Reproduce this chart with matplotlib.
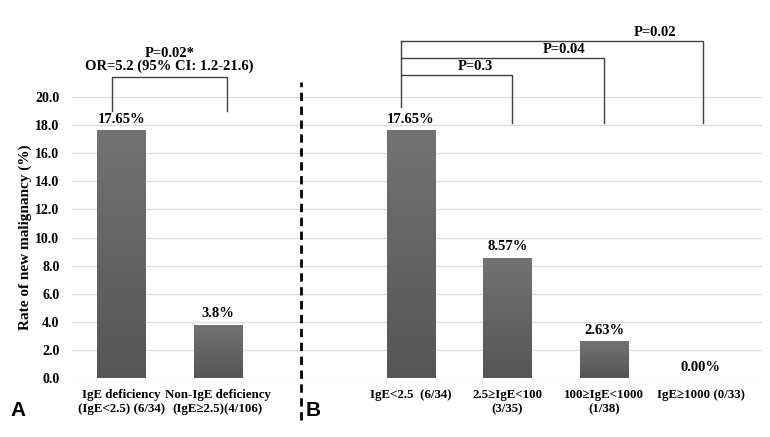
import matplotlib
matplotlib.use("Agg")
import matplotlib.pyplot as plt
import numpy as np
from matplotlib.colors import LinearSegmentedColormap

categories = ["IgE deficiency\n(IgE<2.5) (6/34)", "Non-IgE deficiency\n(IgE≥2.5)(4/106)",
              "IgE<2.5  (6/34)", "2.5≥IgE<100\n(3/35)", "100≥IgE<1000\n(1/38)", "IgE≥1000 (0/33)"]
values = [17.65, 3.8, 17.65, 8.57, 2.63, 0.0]
value_labels = ["17.65%", "3.8%", "17.65%", "8.57%", "2.63%", "0.00%"]
positions = [0, 1, 3, 4, 5, 6]
yticks = [0, 2, 4, 6, 8, 10, 12, 14, 16, 18, 20]
p_labels_right = ["P=0.3", "P=0.04", "P=0.02"]

plt.rcParams['font.family'] = ['Liberation Serif', 'DejaVu Serif']
plt.rcParams['font.weight'] = 'bold'

fig = plt.figure(figsize=(7.7, 4.37), dpi=100)
ax = fig.add_axes([0.0935, 0.135, 0.8965, 0.643])

ax.set_yticks(yticks)
ax.set_yticklabels([f"{v:.1f}" for v in yticks], fontsize=10, fontweight='bold')
ax.yaxis.grid(True, color='#dcdcdc', linewidth=0.9)
ax.set_axisbelow(True)
for s in ax.spines.values():
    s.set_visible(False)
ax.tick_params(axis='y', length=0, pad=9)
ax.set_xticks(positions)
ax.set_xticklabels(categories, fontsize=9.3, fontweight='bold', linespacing=1.25, va='top')
ax.tick_params(axis='x', length=0, pad=8)
ax.set_ylabel("Rate of new malignancy (%)", fontsize=11, fontweight='bold', labelpad=2)

# bars with vertical gradient
bars = ax.bar(positions, values, width=0.5, color='#606060', zorder=2)
grad = np.linspace(0, 1, 256).reshape(-1, 1)
cmap = LinearSegmentedColormap.from_list("g", ["#555555", "#737373"])
for b in bars:
    h = b.get_height()
    if h <= 0:
        continue
    x0 = b.get_x(); w = b.get_width()
    im = ax.imshow(grad, extent=[x0, x0 + w, 0, h], origin='lower', cmap=cmap,
                   aspect='auto', zorder=3)
    im.set_clip_path(b)
ax.set_xlim(-0.51, 6.64)
ax.set_ylim(0, 20)

for x, v, lab in zip(positions, values, value_labels):
    ax.text(x, v + 0.3, lab, ha='center', va='bottom', fontsize=10.5, fontweight='bold')

lc = '#404040'
lw = 1.0
# left bracket
ax.plot([-0.1, -0.1, 1.1, 1.1], [19.0, 21.42, 21.42, 19.0], color=lc, lw=lw, clip_on=False)
ax.text(0.5, 23.1, "P=0.02*", ha='center', va='center', fontsize=10.5, fontweight='bold')
ax.text(0.5, 22.2, "OR=5.2 (95% CI: 1.2-21.6)", ha='center', va='center', fontsize=10.5, fontweight='bold')

# right brackets
lx = 2.9
tops = [21.6, 22.78, 24.0]
rights = [4.05, 5.0, 6.03]
txx = [3.67, 4.59, 5.53]
for t, r, tx, lab in zip(tops, rights, txx, p_labels_right):
    ax.plot([lx, r, r], [t, t, 18.13], color=lc, lw=lw, clip_on=False)
    ax.text(tx, t + 0.12, lab, ha='center', va='bottom', fontsize=10.5, fontweight='bold')
ax.plot([lx, lx], [19.3, 24.0], color=lc, lw=lw, clip_on=False)

# dashed separator
ax.plot([1.865, 1.865], [-3.0, 21.07], color='black', lw=2, ls=(0, (3, 2)), clip_on=False)

fig.text(10 / 770, 1 - 410 / 437, "A", fontsize=15, fontweight='bold', family='Liberation Sans', va='center')
fig.text(306 / 770, 1 - 410 / 437, "B", fontsize=15, fontweight='bold', family='Liberation Sans', va='center')

fig.savefig("out.png", dpi=100)
